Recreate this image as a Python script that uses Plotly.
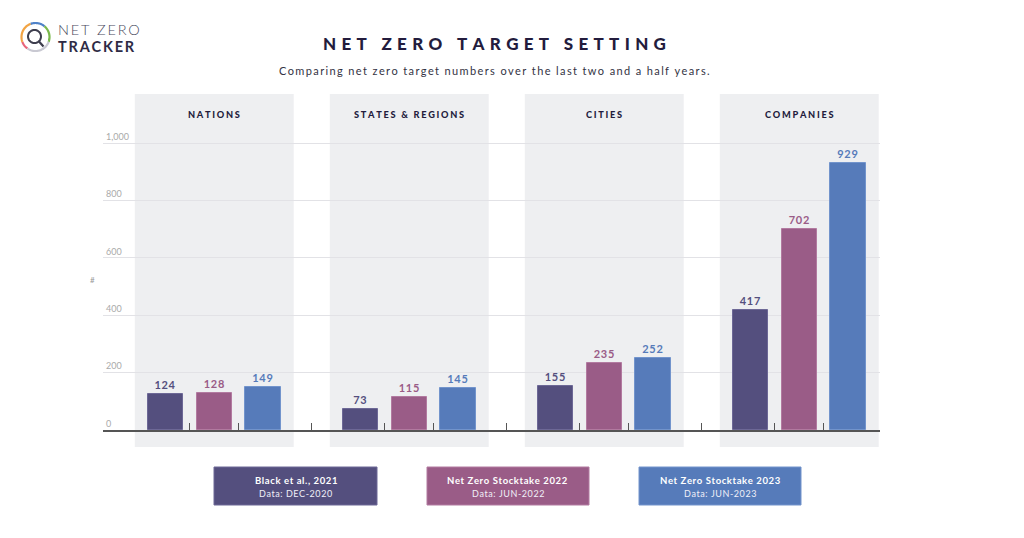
import math
import plotly.graph_objects as go

# ---- data ----
categories = ["NATIONS", "STATES & REGIONS", "CITIES", "COMPANIES"]
series_names = ["Black et al., 2021", "Net Zero Stocktake 2022", "Net Zero Stocktake 2023"]
series_data_dates = ["Data: DEC-2020", "Data: JUN-2022", "Data: JUN-2023"]
black_2021 = [124, 73, 155, 417]
nzs_2022 = [128, 115, 235, 702]
nzs_2023 = [149, 145, 252, 929]
y_tick_values = [0, 200, 400, 600, 800, 1000]
y_tick_labels = ["0", "200", "400", "600", "800", "1,000"]

series_values = [black_2021, nzs_2022, nzs_2023]
colors = ["#544f7e", "#9a5c87", "#567bba"]
border_colors = ["#6d6896", "#b27aa0", "#7294cc"]
DARK = "#231c3d"
FONT = "Lato"

# page geometry (screen pixels); the page body adds an 8px margin
OFF = 8
W, H = 1024 - 2 * OFF, 538 - 2 * OFF
L, R, T, B = 103, 880, 94, 430   # plot area in screen pixels


def spaced(s, sp="\u200a"):
    return sp.join(list(s))


def pxx(p):
    return (p - L) / (R - L)


def pxy(p):
    return (B - p) / (B - T)


GROUP = 4  # units per category group
UNIT = 48.75
X0PX = 165.5
fig = go.Figure()

for si, (name, vals) in enumerate(zip(series_names, series_values)):
    xs = [gi * GROUP + si for gi in range(len(categories))]
    fig.add_trace(go.Bar(
        x=xs, y=vals, name=name, width=0.72,
        marker=dict(color=colors[si], line=dict(color=border_colors[si], width=1)),
        text=[f"<b>{spaced(str(v))}</b>" for v in vals],
        textposition="outside",
        textfont=dict(family=FONT, size=11, color=colors[si], weight=900),
        cliponaxis=False,
        showlegend=False,
        hoverinfo="skip",
    ))

shapes = []
annotations = []

# grey category panels + headers
for gi, cat in enumerate(categories):
    x0 = gi * GROUP - 0.63
    x1 = gi * GROUP + 2.63
    shapes.append(dict(type="rect", xref="x", yref="paper", x0=x0, x1=x1,
                       y0=pxy(447), y1=pxy(94), fillcolor="#eeeff1",
                       line=dict(width=0), layer="below"))
    annotations.append(dict(xref="x", yref="paper", x=(x0 + x1) / 2, y=pxy(114),
                            text=spaced(cat, chr(0x2009) + chr(0x200a)), showarrow=False,
                            font=dict(family=FONT, size=9.2, color=DARK, weight=900),
                            xanchor="center", yanchor="middle"))

# x-axis tick marks (between bars and between groups)
tick_vals = []
for gi in range(len(categories)):
    for off in (0.5, 1.5, 3.0):
        v = gi * GROUP + off
        if v < 14.6:
            tick_vals.append(v)

# title & subtitle
annotations.append(dict(xref="paper", yref="paper", x=pxx(494), y=pxy(43),
                        text=spaced("NET ZERO TARGET SETTING", "\u2009\u2009\u200a"),
                        showarrow=False, font=dict(family=FONT, size=17, color=DARK, weight=900),
                        xanchor="center", yanchor="middle"))
annotations.append(dict(xref="paper", yref="paper", x=pxx(494), y=pxy(70),
                        text=spaced("Comparing net zero target numbers over the last two and a half years.", "\u2009"),
                        showarrow=False, font=dict(family=FONT, size=11, color="#333344"),
                        xanchor="center", yanchor="middle"))

# y axis title "#"
annotations.append(dict(xref="paper", yref="paper", x=pxx(92), y=pxy(280), text="#",
                        showarrow=False, font=dict(family=FONT, size=8, color="#999999"),
                        xanchor="center", yanchor="middle"))

# legend boxes
box_x = [(214, 377), (427, 589), (639, 801)]
for si, (bx0, bx1) in enumerate(box_x):
    shapes.append(dict(type="rect", xref="paper", yref="paper", x0=pxx(bx0), x1=pxx(bx1),
                       y0=pxy(505), y1=pxy(467), fillcolor=colors[si],
                       line=dict(color=border_colors[si], width=1)))
    annotations.append(dict(xref="paper", yref="paper", x=pxx((bx0 + bx1) / 2), y=pxy(480),
                            text="<b>" + spaced(series_names[si]) + "</b>", showarrow=False,
                            font=dict(family=FONT, size=9.5, color="white"),
                            xanchor="center", yanchor="middle"))
    annotations.append(dict(xref="paper", yref="paper", x=pxx((bx0 + bx1) / 2), y=pxy(493),
                            text=spaced(series_data_dates[si], "\u200a"), showarrow=False,
                            font=dict(family=FONT, size=9, color="#f0f0f8"),
                            xanchor="center", yanchor="middle"))

# logo ring
cx, cy, rr = 35.5, 37, 14


def arc_path(a0, a1, r, ccx, ccy, n=20):
    pts = []
    for k in range(n + 1):
        a = math.radians(a0 + (a1 - a0) * k / n)
        pts.append((pxx(ccx + r * math.cos(a)), pxy(ccy - r * math.sin(a))))
    return "M " + " L ".join(f"{x:.5f},{y:.5f}" for x, y in pts)


ring = [(235, 200, "#e8637a"), (200, 110, "#f2a444"), (110, 50, "#4f82c8"),
        (50, -20, "#79b84a"), (-20, -125, "#c9c9d2")]
for a0, a1, col in ring:
    shapes.append(dict(type="path", xref="paper", yref="paper", path=arc_path(a0, a1, rr, cx, cy),
                       line=dict(color=col, width=2.2)))
shapes.append(dict(type="path", xref="paper", yref="paper",
                   path=arc_path(0, 360, 6.5, cx - 1, cy - 0.5, 40),
                   line=dict(color="#3d3d4d", width=2)))
shapes.append(dict(type="line", xref="paper", yref="paper", x0=pxx(cx + 3.5), y0=pxy(cy + 4.5),
                   x1=pxx(cx + 8), y1=pxy(cy + 9.5), line=dict(color="#3d3d4d", width=2.2)))
annotations.append(dict(xref="paper", yref="paper", x=pxx(56), y=pxy(29),
                        text=spaced("NET ZERO", "\u2009"),
                        showarrow=False, font=dict(family=FONT, size=14.5, color="#4a4a5e", weight=300),
                        xanchor="left", yanchor="middle"))
annotations.append(dict(xref="paper", yref="paper", x=pxx(56), y=pxy(46),
                        text=spaced("TRACKER", "\u200a\u200a"),
                        showarrow=False, font=dict(family=FONT, size=14.5, color="#2e2b45", weight=700),
                        xanchor="left", yanchor="middle"))

fig.update_layout(
    width=W, height=H,
    margin=dict(l=L - OFF, r=(W + OFF) - R, t=T - OFF, b=(H + OFF) - B, pad=0),
    paper_bgcolor="white", plot_bgcolor="rgba(0,0,0,0)",
    font=dict(family=FONT),
    shapes=shapes, annotations=annotations,
    bargap=0,
    xaxis=dict(range=[(L - X0PX) / UNIT, (R - X0PX) / UNIT], showgrid=False,
               zeroline=False, showline=True, linecolor="#555555", linewidth=1.5,
               tickmode="array", tickvals=tick_vals, ticktext=["" for _ in tick_vals],
               ticks="inside", ticklen=7, tickwidth=1.2, tickcolor="#555555",
               fixedrange=True),
    yaxis=dict(range=[0, 1171], tickmode="array", tickvals=y_tick_values,
               ticktext=y_tick_labels, ticklabelposition="inside top",
               tickfont=dict(family=FONT, size=9, color="#aaaaaa"),
               showgrid=True, gridcolor="#e2e2e6", gridwidth=1, zeroline=False,
               showline=False, ticks="", fixedrange=True),
)

fig.write_html("out.html")
